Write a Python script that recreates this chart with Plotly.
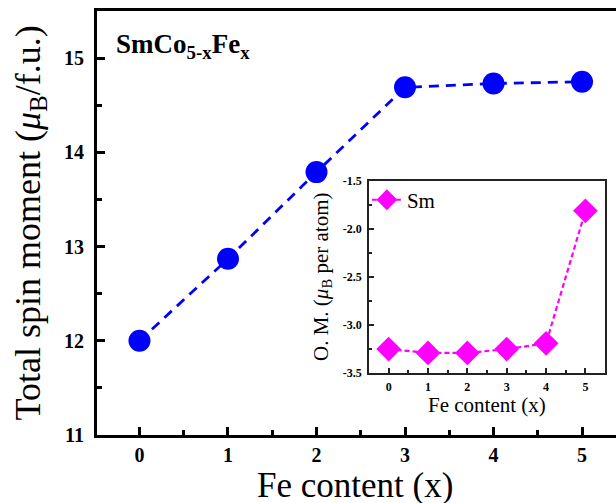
import plotly.graph_objects as go

fe_content = [0, 1, 2, 3, 4, 5]
total_spin = [12.0, 12.87, 13.79, 14.69, 14.73, 14.75]
sm_orbital = [-3.25, -3.29, -3.29, -3.25, -3.19, -1.81]

main_xticks = [0, 1, 2, 3, 4, 5]
main_yticks = [11, 12, 13, 14, 15]
inset_yticks = [-3.5, -3.0, -2.5, -2.0, -1.5]

FONT = "Liberation Serif"

fig = go.Figure()

fig.add_trace(go.Scatter(
    x=fe_content, y=total_spin, mode="lines+markers",
    line=dict(color="#0000FF", width=2.8, dash="10px,7px"),
    marker=dict(symbol="circle", size=22, color="#0000FF"),
    showlegend=False, xaxis="x", yaxis="y",
))

fig.add_trace(go.Scatter(
    x=fe_content, y=sm_orbital, mode="lines+markers", name="Sm",
    line=dict(color="#FF00FF", width=2.2, dash="5px,3px"),
    marker=dict(symbol="diamond", size=19, color="#FF00FF"),
    showlegend=True, xaxis="x2", yaxis="y2",
))

def title_ann(text, x, y, size, angle=0):
    return dict(text=text, xref="paper", yref="paper", x=x, y=y,
                xanchor="center", yanchor="middle", showarrow=False,
                textangle=angle, font=dict(family=FONT, size=size, color="black"))

fig.update_layout(
    width=616, height=503,
    margin=dict(l=97, r=0, t=11, b=68, autoexpand=False),
    paper_bgcolor="white", plot_bgcolor="white",
    font=dict(family=FONT, color="black"),
    xaxis=dict(
        range=[-0.48, 5.384], domain=[0, 1], automargin=False,
        tickvals=main_xticks, ticktext=[str(v) for v in main_xticks],
        ticks="inside", ticklen=8, tickwidth=2.5, tickcolor="black",
        minor=dict(dtick=0.5, ticks="inside", ticklen=5, tickwidth=2.5, tickcolor="black"),
        showline=True, linewidth=3, linecolor="black", mirror=True,
        showgrid=False, zeroline=False,
        tickfont=dict(family=FONT, size=20, color="black", weight="bold"),
        ticklabelstandoff=0,
    ),
    yaxis=dict(
        range=[11, 15.5], domain=[0, 1], automargin=False,
        tickvals=main_yticks, ticktext=[str(v) for v in main_yticks],
        ticks="inside", ticklen=8, tickwidth=2.5, tickcolor="black",
        minor=dict(dtick=0.5, ticks="inside", ticklen=5, tickwidth=2.5, tickcolor="black"),
        showline=True, linewidth=3, linecolor="black",
        showgrid=False, zeroline=False,
        tickfont=dict(family=FONT, size=20, color="black", weight="bold"),
        ticklabelstandoff=6,
    ),
    xaxis2=dict(
        anchor="y2", domain=[0.524, 0.979], range=[-0.5, 5.5], automargin=False,
        tickvals=main_xticks, ticktext=[str(v) for v in main_xticks],
        ticks="inside", ticklen=5, tickwidth=1.5, tickcolor="#222",
        minor=dict(dtick=0.5, ticks="inside", ticklen=3, tickwidth=1.5, tickcolor="#222"),
        showline=True, linewidth=1.6, linecolor="#222", mirror=True,
        showgrid=False, zeroline=False,
        tickfont=dict(family=FONT, size=12, color="black", weight="bold"),
        ticklabelstandoff=2,
    ),
    yaxis2=dict(
        anchor="x2", domain=[0.146, 0.599], range=[-3.5, -1.5], automargin=False,
        tickvals=inset_yticks, ticktext=[f"{v:.1f}" for v in inset_yticks],
        ticks="inside", ticklen=5, tickwidth=1.5, tickcolor="#222",
        minor=dict(dtick=0.25, ticks="inside", ticklen=3, tickwidth=1.5, tickcolor="#222"),
        showline=True, linewidth=1.6, linecolor="#222", mirror=True,
        showgrid=False, zeroline=False,
        tickfont=dict(family=FONT, size=12, color="black", weight="bold"),
        ticklabelstandoff=3,
    ),
    legend=dict(
        x=0.52, y=0.554, xanchor="left", yanchor="middle",
        bgcolor="rgba(0,0,0,0)", borderwidth=0,
        font=dict(family=FONT, size=21, color="black"),
        itemwidth=30,
    ),
    annotations=[
        dict(text="<b>SmCo<sub>5-x</sub>Fe<sub>x</sub></b>",
             xref="paper", yref="paper", x=0.033, y=0.962,
             xanchor="left", yanchor="top", showarrow=False,
             font=dict(family=FONT, size=27, color="black")),
        title_ann("Fe content (x)", 0.497, -0.118, 35),
        title_ann("Total spin moment (<i>μ</i><sub>B</sub>/f.u.)", -0.129, 0.499, 36, -90),
        title_ann("Fe content (x)", 0.7514, 0.0708, 21),
        title_ann("O. M. (<i>μ</i><sub>B</sub> per atom)", 0.4335, 0.3726, 21, -90),
    ],
)

fig.write_html("out.html",
               config={"displayModeBar": False},
               post_script="document.body.style.margin='0';document.body.style.overflow='hidden';")
